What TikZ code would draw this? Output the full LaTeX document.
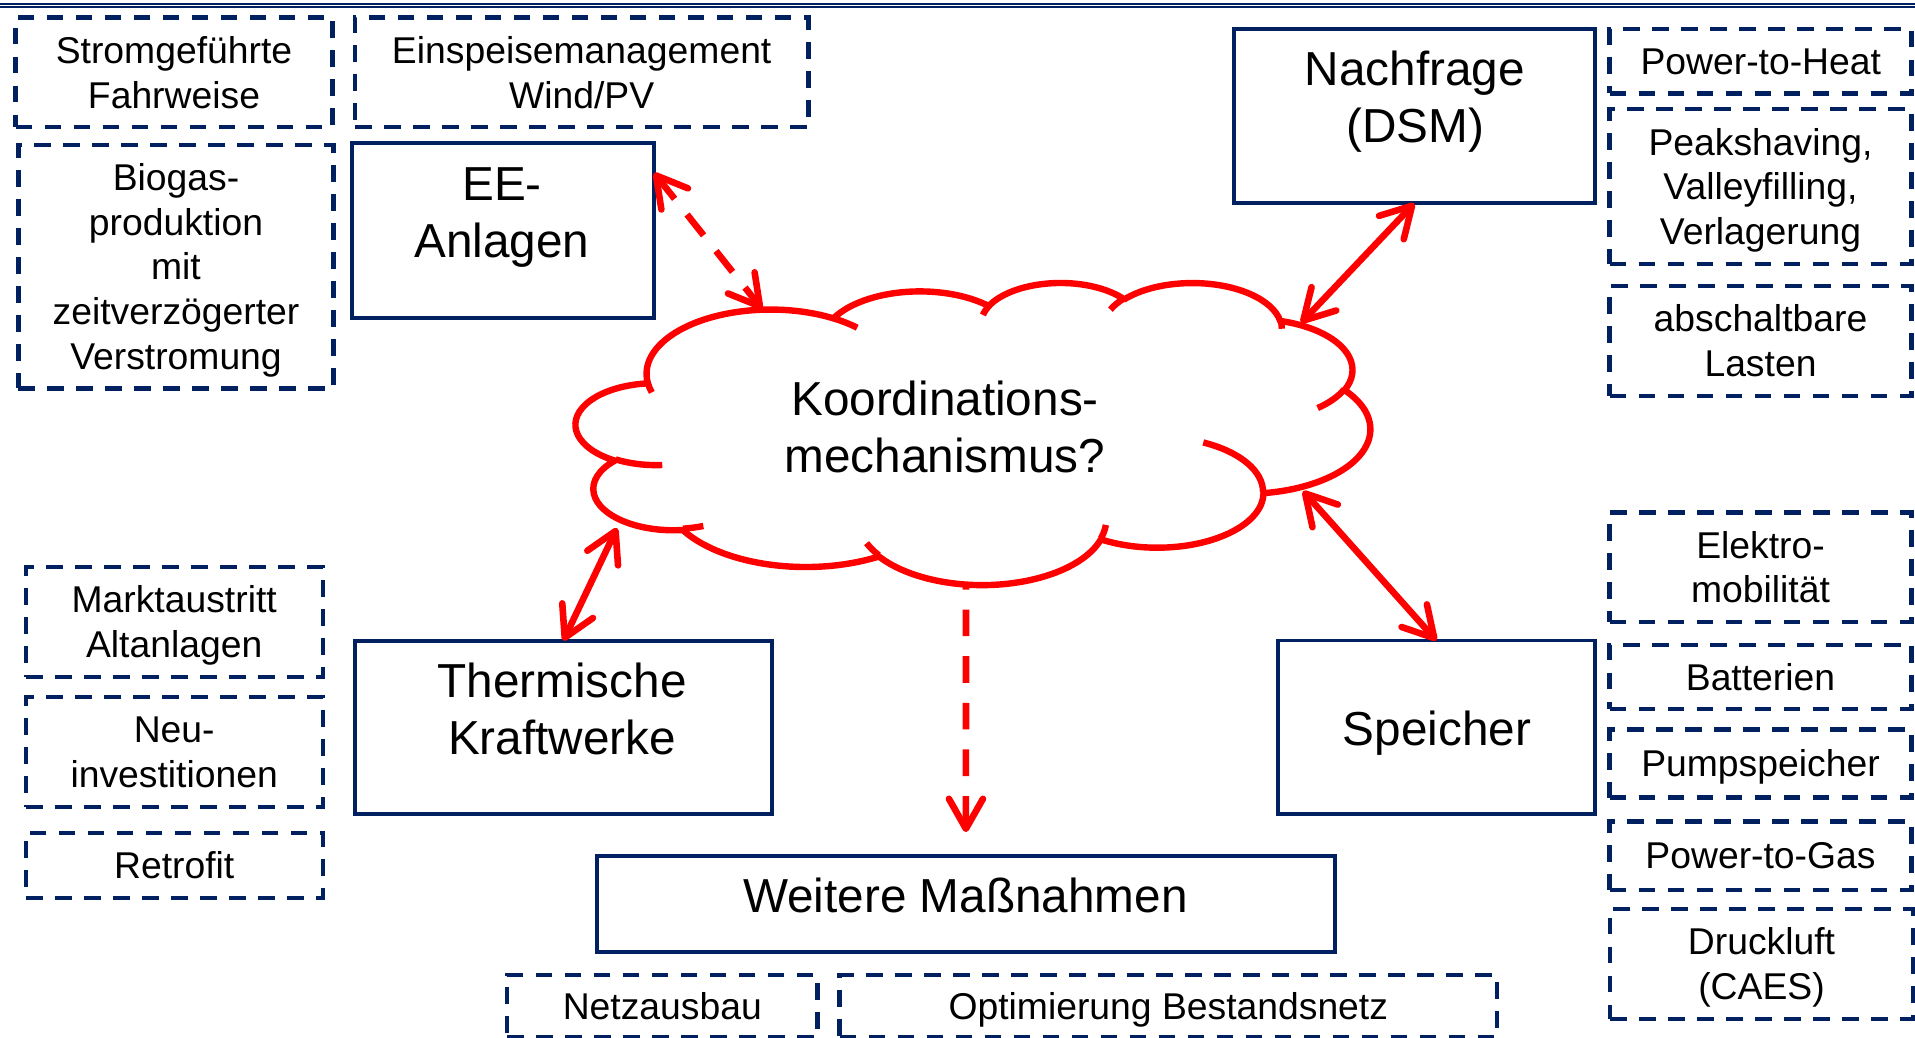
\documentclass[tikz,border=0pt]{standalone}
\usepackage{fontspec}
\setmainfont{Liberation Sans}
\usetikzlibrary{arrows.meta,calc}
\definecolor{navy}{RGB}{0,32,96}
\definecolor{pred}{RGB}{255,0,0}
\begin{document}
\begin{tikzpicture}[x=1pt,y=-1pt,
  declare function={vp(\qa,\qx,\qy)=atan2(\qx*sin(\qa),\qy*cos(\qa))+360*round((\qa-atan2(\qx*sin(\qa),\qy*cos(\qa)))/360);},
  dbox/.style={draw=navy, line width=4.4pt, dash pattern=on 16.8pt off 12.2pt, rectangle, inner sep=0pt, outer sep=0pt},
  sbox/.style={draw=navy, line width=3.8pt, rectangle, inner sep=0pt, outer sep=0pt},
  stxt/.style={font=\fontsize{37.3}{44.8}\selectfont, align=center, inner sep=0pt},
  ltxt/.style={font=\fontsize{47.7}{57}\selectfont, align=center, inner sep=0pt},
  rb/.tip={Straight Barb[length=30pt,width=34pt,round]},
  rline/.style={draw=pred, line width=6.6pt},
  rdash/.style={dash pattern=on 26.6pt off 20pt},
  cloudline/.style={draw=pred, line width=6.4pt, line join=round},
]
\useasboundingbox (0,0) rectangle (1915,1038);
\clip (0,0) rectangle (1915,1038);
\fill[white] (0,0) rectangle (1915,1038);

% top rule
\draw[navy, line width=2pt] (0,3.7) -- (1915,3.7);
\draw[navy, line width=1.4pt] (0,7) -- (1915,7);

% dashed boxes
\node[dbox, minimum width=317pt, minimum height=109.8pt] (b1) at (174,72.4) {};
\node[dbox, minimum width=453.3pt, minimum height=109.8pt] (b2) at (581.7,72.4) {};
\node[dbox, minimum width=315.3pt, minimum height=243.3pt] (b3) at (176,266.7) {};
\node[dbox, minimum width=302pt, minimum height=64.3pt] (b4) at (1760.5,61.2) {};
\node[dbox, minimum width=302pt, minimum height=155pt] (b5) at (1760.5,186.5) {};
\node[dbox, minimum width=302pt, minimum height=110pt] (b6) at (1760.5,341) {};
\node[dbox, minimum width=302pt, minimum height=109.2pt] (b7) at (1760.5,567.2) {};
\node[dbox, minimum width=302pt, minimum height=64.2pt] (b8) at (1760.5,676.8) {};
\node[dbox, minimum width=302pt, minimum height=68.2pt] (b9) at (1760.5,763.5) {};
\node[dbox, minimum width=302pt, minimum height=68.5pt] (b10) at (1760.5,855.6) {};
\node[dbox, minimum width=303pt, minimum height=110.2pt] (b11) at (1761.5,963.9) {};
\node[dbox, minimum width=297pt, minimum height=110pt] (b12) at (174.2,622) {};
\node[dbox, minimum width=297pt, minimum height=110pt] (b13) at (174.2,752) {};
\node[dbox, minimum width=297pt, minimum height=64.7pt] (b14) at (174.2,865.4) {};
\node[dbox, minimum width=310.5pt, minimum height=62.3pt] (b15) at (662.3,1005.9) {};
\node[dbox, minimum width=657.5pt, minimum height=62pt] (b16) at (1168.3,1006) {};

% dashed box texts
\node[stxt] (t1) at (174,76.8) {\strut Stromgeführte\\Fahrweise\strut};
\node[stxt] (t2) at (581.7,76.8) {\strut Einspeisemanagement\\Wind/PV\strut};
\node[stxt] (t3) at (176,271) {\strut Biogas-\\produktion\\mit\\zeitverzögerter\\Verstromung\strut};
\node[stxt] (t4) at (1760.8,65.5) {\strut Power-to-Heat};
\node[stxt] (t5) at (1760.5,190.9) {\strut Peakshaving,\\Valleyfilling,\\Verlagerung\strut};
\node[stxt] (t6) at (1760.5,345.4) {\strut abschaltbare\\Lasten\strut};
\node[stxt] (t7) at (1760.5,571.6) {\strut Elektro-\\mobilität\strut};
\node[stxt] (t8) at (1760.5,681.2) {\strut Batterien};
\node[stxt] (t9) at (1760.5,767.9) {\strut Pumpspeicher};
\node[stxt] (t10) at (1760.5,859.9) {\strut Power-to-Gas};
\node[stxt] (t11) at (1761.5,968.3) {\strut Druckluft\\(CAES)\strut};
\node[stxt] (t12) at (174.2,626.4) {\strut Marktaustritt\\Altanlagen\strut};
\node[stxt] (t13) at (174.2,756.4) {\strut Neu-\\investitionen\strut};
\node[stxt] (t14) at (174.2,869.7) {\strut Retrofit};
\node[stxt] (t15) at (662.3,1010.2) {\strut Netzausbau};
\node[stxt] (t16) at (1168.3,1010.2) {\strut Optimierung Bestandsnetz};

% solid boxes
\node[sbox, minimum width=302pt, minimum height=175pt] (ee) at (503,230.8) {};
\node[sbox, minimum width=361.4pt, minimum height=174.3pt] (nach) at (1414.3,116.2) {};
\node[sbox, minimum width=416.6pt, minimum height=173.5pt] (therm) at (563.3,727.5) {};
\node[sbox, minimum width=317.3pt, minimum height=173.5pt] (spei) at (1436.4,727.3) {};
\node[sbox, minimum width=737.7pt, minimum height=96.4pt] (weit) at (965.9,903.8) {};

\node[ltxt] (eeT) at (502,217.3) {\strut EE-\\Anlagen\strut};
\node[ltxt] (nachT) at (1415,103.1) {\strut Nachfrage\\(DSM)\strut};
\node[ltxt] (thermT) at (562,714.9) {\strut Thermische\\Kraftwerke\strut};
\node[ltxt] (speiT) at (1437,734.3) {\strut Speicher};
\node[ltxt] (weitT) at (965.5,900.6) {\strut Weitere Maßnahmen};

% connector end points on the cloud
\coordinate (c1) at (762,309);
\coordinate (c2) at (1301,323);
\coordinate (c3) at (617,528);
\coordinate (c4) at (1303,491);
\coordinate (c5) at (966,563);

% cloud -> Weitere Massnahmen (behind the cloud)
\draw[rline, rdash, -rb, shorten >=23.5pt] (c5) -- (weit.north);

% cloud
\begin{scope}[shift={(576,282)}, x=1.83796pt, y=-0.69907pt]
\draw[cloudline, fill=white] (39,143.7)
 arc[x radius=67.53,y radius=91.90,start angle={vp(-190.4875,67.53,91.90)},end angle={vp(-66.7070,67.53,91.90)}]
 arc[x radius=53.33,y radius=72.67,start angle={vp(-144.1024,53.33,72.67)},end angle={vp(-54.1572,53.33,72.67)}]
 arc[x radius=43.65,y radius=59.45,start angle={vp(-145.8079,43.65,59.45)},end angle={vp(-46.0849,43.65,59.45)}]
 arc[x radius=48.57,y radius=65.95,start angle={vp(-130.9861,48.57,65.95)},end angle={vp(-13.7444,48.57,65.95)}]
 arc[x radius=53.33,y radius=72.73,start angle={vp(-78.7089,53.33,72.73)},end angle={vp(30.3180,53.33,72.73)}]
 arc[x radius=67.75,y radius=92.20,start angle={vp(-46.2811,67.75,92.20)},end angle={vp(83.9879,67.75,92.20)}]
 arc[x radius=57.85,y radius=78.67,start angle={vp(0.6250,57.85,78.67)},end angle={vp(114.6583,57.85,78.67)}]
 arc[x radius=67.52,y radius=92.15,start angle={vp(22.4516,67.52,92.15)},end angle={vp(137.6242,67.52,92.15)}]
 arc[x radius=77.20,y radius=105.43,start angle={vp(66.2426,77.20,105.43)},end angle={vp(141.9536,77.20,105.43)}]
 arc[x radius=43.60,y radius=59.18,start angle={vp(-274.9421,43.60,59.18)},end angle={vp(-128.2065,43.60,59.18)}]
 arc[x radius=43.45,y radius=59.45,start angle={vp(-246.8285,43.45,59.45)},end angle={vp(-94.3096,43.45,59.45)}]
 -- cycle;
\draw[cloudline] (46.93,261.77) arc[x radius=43.45,y radius=59.45,start angle={vp(86.742,43.45,59.45)},end angle={vp(113.1715,43.45,59.45)}];
\draw[cloudline] (69.28,348.99) arc[x radius=43.60,y radius=59.18,start angle={vp(73.6105,43.60,59.18)},end angle={vp(85.058,43.60,59.18)}];
\draw[cloudline] (164.78,390.90) arc[x radius=67.52,y radius=92.15,start angle={vp(137.6242,67.52,92.15)},end angle={vp(151.7053,67.52,92.15)}];
\draw[cloudline] (288.27,347.51) arc[x radius=67.52,y radius=92.15,start angle={vp(6.4533,67.52,92.15)},end angle={vp(22.4517,67.52,92.15)}];
\draw[cloudline] (341.29,229.54) arc[x radius=57.85,y radius=78.67,start angle={vp(-70.2924,57.85,78.67)},end angle={vp(0.6250,57.85,78.67)}];
\draw[cloudline] (417.98,153.54) arc[x radius=53.33,y radius=72.73,start angle={vp(30.3180,53.33,72.73)},end angle={vp(58.0695,53.33,72.73)}];
\draw[cloudline] (383.24,54.26) arc[x radius=48.57,y radius=65.95,start angle={vp(-13.7443,48.57,65.95)},end angle={vp(1.1146,48.57,65.95)}];
\draw[cloudline] (290.78,39.52) arc[x radius=48.57,y radius=65.95,start angle={vp(-149.1815,48.57,65.95)},end angle={vp(-130.9861,48.57,65.95)}];
\draw[cloudline] (221.41,47.20) arc[x radius=43.65,y radius=59.45,start angle={vp(-163.4943,43.65,59.45)},end angle={vp(-145.8079,43.65,59.45)}];
\draw[cloudline] (140.00,51.92) arc[x radius=67.53,y radius=91.90,start angle={vp(-66.7070,67.53,91.90)},end angle={vp(-54.3876,67.53,91.90)}];
\draw[cloudline] (41.27,157.89) arc[x radius=67.53,y radius=91.90,start angle={vp(157.6544,67.53,91.90)},end angle={vp(169.5126,67.53,91.90)}];
\end{scope}

\node[ltxt] (koord) at (945,433) {\strut Koordinations-\\mechanismus?\strut};

% connectors
\draw[rline, rdash, rb-rb] (ee.21) -- (c1);
\draw[rline, rb-rb] (nach.south) -- (c2);
\draw[rline, rb-rb] (therm.north) -- (c3);
\draw[rline, rb-rb] (spei.north) -- (c4);
\end{tikzpicture}
\end{document}
